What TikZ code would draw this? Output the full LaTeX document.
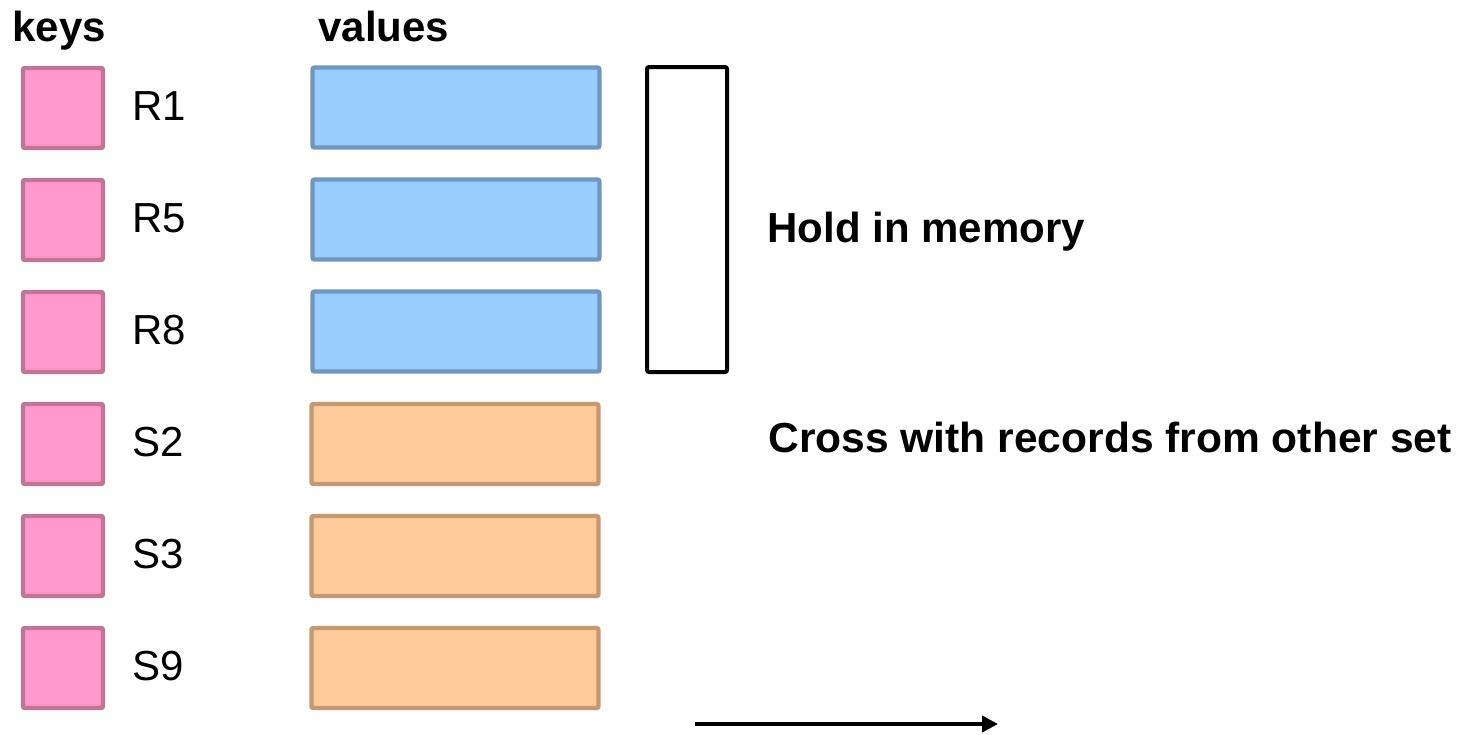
\documentclass[tikz,border=0pt]{standalone}
\usepackage{fontspec}
\setmainfont{Liberation Sans}
\usetikzlibrary{arrows.meta}
\definecolor{keyfill}{HTML}{FF99CC}
\definecolor{keyline}{RGB}{192,116,152}
\definecolor{rfill}{HTML}{99CCFF}
\definecolor{rline}{RGB}{112,150,190}
\definecolor{sfill}{HTML}{FFCC99}
\definecolor{sline}{RGB}{196,152,112}
\tikzset{
  keybox/.style={draw=keyline, fill=keyfill, line width=2.2pt, rounded corners=1pt,
    minimum width=40pt, minimum height=40pt, inner sep=0pt},
  rval/.style={draw=rline, fill=rfill, line width=2.2pt, rounded corners=1pt,
    minimum width=143.5pt, minimum height=40pt, inner sep=0pt},
  sval/.style={draw=sline, fill=sfill, line width=2.2pt, rounded corners=1pt,
    minimum width=143.5pt, minimum height=40pt, inner sep=0pt},
  keylabel/.style={anchor=base west, inner sep=0pt, font=\fontsize{21pt}{25pt}\selectfont},
  heading/.style={anchor=base west, inner sep=0pt, font=\fontsize{21pt}{25pt}\selectfont\bfseries},
  membox/.style={draw=black, line width=2pt, rounded corners=1pt,
    minimum width=40pt, minimum height=152.5pt, inner sep=0pt},
}
\begin{document}
\begin{tikzpicture}[x=0.5pt,y=-0.5pt]
\useasboundingbox (0,0) rectangle (1462,734);

% column headings
\node[heading] (keys) at (12,41) {keys};
\node[heading] (values) at (318,41) {values};

% key squares, labels and value bars
\node[keybox] (k1) at (63,108) {};
\node[keybox] (k2) at (63,220) {};
\node[keybox] (k3) at (63,332) {};
\node[keybox] (k4) at (63,444) {};
\node[keybox] (k5) at (63,556) {};
\node[keybox] (k6) at (63,668) {};

\node[keylabel] (l1) at (132,120) {R1};
\node[keylabel] (l2) at (132,232) {R5};
\node[keylabel] (l3) at (132,344) {R8};
\node[keylabel] (l4) at (132,456) {S2};
\node[keylabel] (l5) at (132,568) {S3};
\node[keylabel] (l6) at (132,680) {S9};

\node[rval] (v1) at (456,107.5) {};
\node[rval] (v2) at (456,219.5) {};
\node[rval] (v3) at (456,331.5) {};
\node[sval] (v4) at (455,444) {};
\node[sval] (v5) at (455,556) {};
\node[sval] (v6) at (455,668) {};

% bracket around the records kept in memory
\node[membox] (mem) at (687,219.5) {};

\node[heading] (hold) at (767,242) {Hold in memory};
\node[heading, xscale=1.013] (cross) at (768,452) {Cross with records from other set};

% direction arrow
\coordinate (a0) at (695,724);
\coordinate (a1) at (998,724);
\draw[line width=2.2pt, -{Triangle[length=8pt,width=8pt]}] (a0) -- (a1);
\end{tikzpicture}
\end{document}
